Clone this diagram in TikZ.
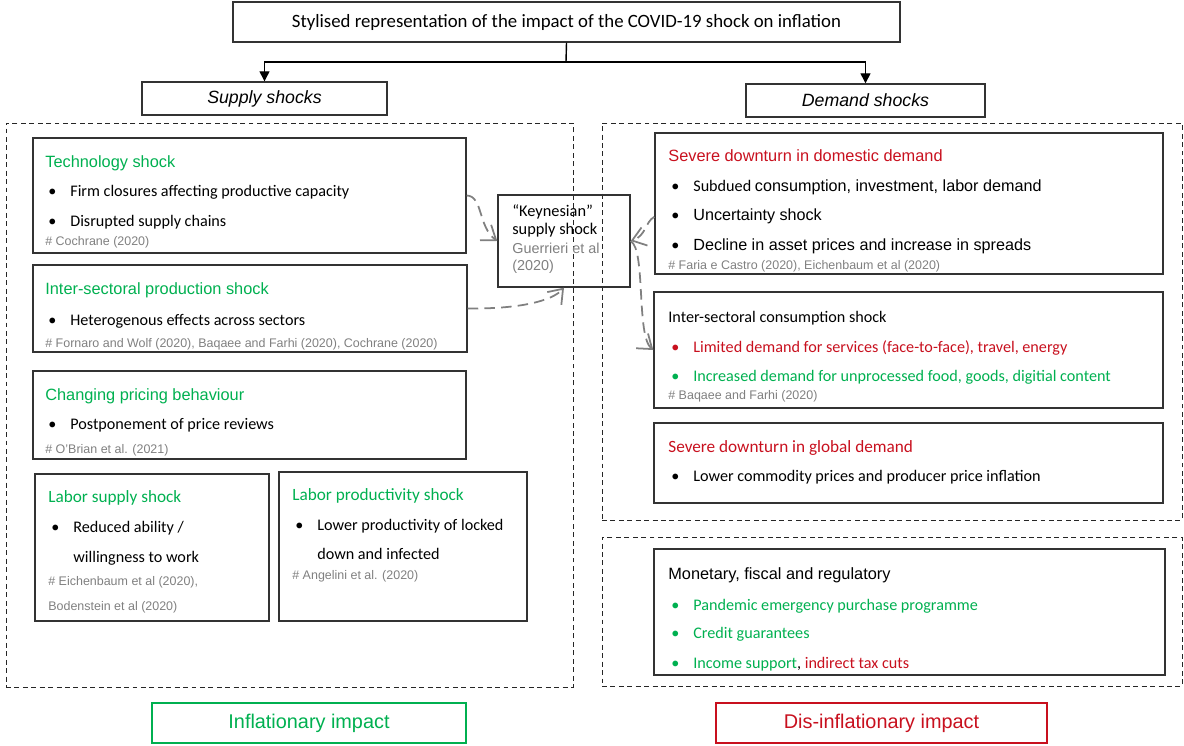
\documentclass[tikz,border=0pt]{standalone}
\usepackage{fontspec}
\setmainfont{Carlito}
\newfontfamily\arialfont{Liberation Sans}
\usetikzlibrary{fit,arrows.meta}
\definecolor{impgreen}{RGB}{0,176,80}
\definecolor{impred}{RGB}{200,16,30}
\definecolor{refgray}{RGB}{128,128,128}
\newcommand{\bul}[1]{\makebox[0.44cm][l]{\textbullet}#1}

\tikzset{
  box/.style={draw=black!80, line width=0.8pt, inner sep=0pt},
  frame/.style={draw=black!85, dash pattern=on 2.8pt off 2pt, line width=0.55pt, inner sep=0pt},
  txt/.style={anchor=base west, inner sep=0pt, font=\fontsize{9.2}{11}\selectfont},
  head/.style={anchor=base west, inner sep=0pt, font=\arialfont\fontsize{9.3}{11}\selectfont},
  cite/.style={anchor=base west, inner sep=0pt, text=refgray, font=\arialfont\fontsize{7.1}{9}\selectfont},
  shock/.style={font=\arialfont\itshape\fontsize{10.1}{12}\selectfont},
  impact/.style={font=\arialfont\fontsize{11.3}{13}\selectfont},
  link/.style={refgray, line width=1pt, dash pattern=on 6pt off 3.5pt, -{Straight Barb[length=2.6mm,width=3.8mm]}},
  arr/.style={-{Triangle[length=2mm,width=2mm]}, line width=0.8pt}
}

\begin{document}
\begin{tikzpicture}[x=0.02cm,y=-0.02cm]
    \useasboundingbox (0,0) rectangle (1184,746);

    % Top of the tree
    \node[box, fit={(233,2) (900,42)}] (title) {};
    \node[font=\fontsize{10.7}{12}\selectfont] (titletxt) at (title) {Stylised representation of the impact of the COVID-19 shock on inflation};
    \node[box, fit={(142,82) (387,115)}] (supply) {};
    \node[shock] (supplytxt) at (supply) {Supply shocks};
    \node[box, fit={(746,84) (985,117)}] (demand) {};
    \node[shock] (demandtxt) at (demand) {Demand shocks};
    \coordinate (split) at (566,62);
    \draw[line width=0.8pt] (title.south) -- (split);
    \draw[arr] (split) -| (supply.north);
    \draw[arr] (split) -| (demand.north);

    % Dashed frames
    \node[frame, fit={(6,123) (573,687)}] (supfr) {};
    \node[frame, fit={(602,123) (1182,520)}] (demfr) {};
    \node[frame, fit={(602,537) (1182,686)}] (polfr) {};

    % SUPPLY SIDE
    \node[box, fit={(33,138) (466,253)}] (tech) {};
    \node[head, text=impgreen] (tech0) at (45,168) {Technology shock};
    \node[txt] (tech1) at (48,197) {\bul{Firm closures affecting productive capacity}};
    \node[txt] (tech2) at (48,227) {\bul{Disrupted supply chains}};
    \node[cite] (tech3) at (45,246) {\# Cochrane (2020)};

    \node[box, fit={(33,265) (467,352)}] (prod) {};
    \node[head, text=impgreen] (prod0) at (45,295) {Inter-sectoral production shock};
    \node[txt] (prod1) at (48,326) {\bul{Heterogenous effects across sectors}};
    \node[cite] (prod2) at (45,348) {\# Fornaro and Wolf (2020), Baqaee and Farhi (2020), Cochrane (2020)};

    \node[box, fit={(33,371) (466,459)}] (pric) {};
    \node[head, text=impgreen] (pric0) at (45,401) {Changing pricing behaviour};
    \node[txt] (pric1) at (48,430) {\bul{Postponement of price reviews}};
    \node[cite] (pric2) at (45,454) {\# O’Brian et al. (2021)};

    \node[box, fit={(35,474) (269,621)}] (labs) {};
    \node[txt, text=impgreen, font=\fontsize{9.8}{11}\selectfont] (labs0) at (48,503) {Labor supply shock};
    \node[txt] (labs1) at (51,533) {\bul{Reduced ability /}};
    \node[txt] (labs2) at (73,562) {willingness to work};
    \node[cite] (labs3) at (48,585) {\# Eichenbaum et al (2020),};
    \node[cite] (labs4) at (48,610) {Bodenstein et al (2020)};

    \node[box, fit={(279,472) (527,621)}] (labp) {};
    \node[txt, text=impgreen, font=\fontsize{9.8}{11}\selectfont] (labp0) at (292,501) {Labor productivity shock};
    \node[txt] (labp1) at (295,531) {\bul{Lower productivity of locked}};
    \node[txt] (labp2) at (317,560) {down and infected};
    \node[cite] (labp3) at (292,580) {\# Angelini et al. (2020)};

    % Keynesian supply shock
    \node[box, fit={(498,195) (630,287)}] (keyn) {};
    \node[txt, font=\fontsize{9.3}{11}\selectfont] (keyn0) at (512,217) {“Keynesian”};
    \node[txt, font=\fontsize{9.3}{11}\selectfont] (keyn1) at (512,235) {supply shock};
    \node[cite, font=\arialfont\fontsize{8.2}{10}\selectfont] (keyn2) at (512,254) {Guerrieri et al};
    \node[cite, font=\arialfont\fontsize{8.2}{10}\selectfont] (keyn3) at (512,271) {(2020)};

    % DEMAND SIDE
    \node[box, fit={(655,133) (1163,274)}] (dom) {};
    \node[head, text=impred] (dom0) at (668,162) {Severe downturn in domestic demand};
    \node[txt] (dom1) at (671,192) {\bul{Subdued {\arialfont consumption, investment, labor demand}}};
    \node[txt] (dom2) at (671,221) {\bul{\arialfont Uncertainty shock}};
    \node[txt] (dom3) at (671,251) {\bul{\arialfont Decline in asset prices and increase in spreads}};
    \node[cite] (dom4) at (668,270) {\# Faria e Castro (2020), Eichenbaum et al (2020)};

    \node[box, fit={(654,292) (1163,408)}] (cons) {};
    \node[txt] (cons0) at (668,323) {Inter-sectoral consumption shock};
    \node[txt, text=impred] (cons1) at (671,353) {\bul{Limited demand for services (face-to-face), travel, energy}};
    \node[txt, text=impgreen] (cons2) at (671,382) {\bul{Increased demand for unprocessed food, goods, digitial content}};
    \node[cite] (cons3) at (668,400) {\# Baqaee and Farhi (2020)};

    \node[box, fit={(654,423) (1163,503)}] (glob) {};
    \node[txt, text=impred, font=\fontsize{9.8}{11}\selectfont] (glob0) at (668,453) {Severe downturn in global demand};
    \node[txt] (glob1) at (671,482) {\bul{Lower commodity prices and producer price inflation}};

    \node[box, fit={(654,549) (1165,675)}] (pol) {};
    \node[head] (pol0) at (668,580) {Monetary, fiscal and regulatory};
    \node[txt, text=impgreen] (pol1) at (671,610) {\bul{Pandemic emergency purchase programme}};
    \node[txt, text=impgreen] (pol2) at (671,639) {\bul{Credit guarantees}};
    \node[txt, text=impgreen] (pol3) at (671,668) {\bul{Income support}\textcolor{black}{,} \textcolor{impred}{indirect tax cuts}};

    % Links into and out of the Keynesian shock
    \draw[link] (tech.east) .. controls (483,196) and (478,227) .. (keyn.west);
    \draw[link] (prod.east) .. controls (520,309) and (552,301) .. (keyn.south);
    \draw[link] (dom.183) .. controls (645,222) and (646,236) .. (keyn.east);
    \draw[link] (keyn.east) .. controls (646,250) and (636,336) .. (cons.west);

    % Impact boxes
    \node[box, draw=impgreen, line width=1.1pt, fit={(152,703) (466,743)}] (infl) {};
    \node[impact, text=impgreen] (infltxt) at (infl) {Inflationary impact};
    \node[box, draw=impred, line width=1.1pt, fit={(716,703) (1047,743)}] (disinfl) {};
    \node[impact, text=impred] (disinfltxt) at (disinfl) {Dis-inflationary impact};
\end{tikzpicture}
\end{document}
